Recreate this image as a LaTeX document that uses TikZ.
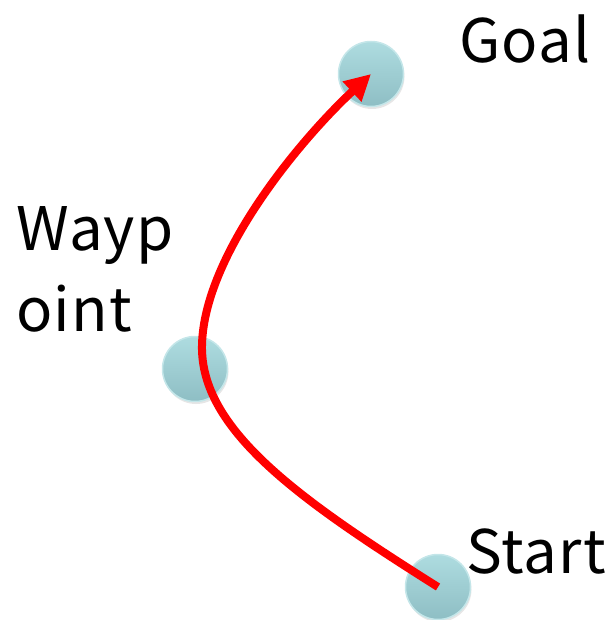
\documentclass[tikz,border=0pt]{standalone}
\usepackage{fontspec}
\setmainfont[LetterSpace=2]{Noto Sans CJK JP}
\usetikzlibrary{arrows.meta, shadows}

\definecolor{puce}{RGB}{174,220,224}
\definecolor{pucebas}{RGB}{142,190,196}
\definecolor{pucebord}{RGB}{196,230,233}

\begin{document}
\begin{tikzpicture}[x=1pt, y=-1pt,
	point/.style={circle, minimum size=65pt, inner sep=0pt,
		top color=puce, bottom color=pucebas, draw=pucebord, line width=1.5pt,
		drop shadow={opacity=0.2, shadow xshift=1pt, shadow yshift=-2.5pt}},
	etiquette/.style={anchor=base west, inner sep=0pt,
		font=\fontsize{60}{81}\selectfont},
	trajet/.style={red, line width=8pt, -{Triangle[length=26pt, width=26pt]}}]
	\useasboundingbox (0,0) rectangle (612,620);
	%les points
	\node[point] (goal) at (371,74) {};
	\node[point] (waypt) at (195,369) {};
	\node[point] (start) at (438,587) {};
	%les textes
	\node[etiquette] (lgoal) at (459,63) {Goal};
	\node[etiquette] (lwayp) at (16,250) {Wayp};
	\node[etiquette] (loint) at (16,331) {oint};
	\node[etiquette] (lstart) at (466,573) {Start};
	%le trajet
	\draw[trajet] (start.center) .. controls (300,500) and (200,430) .. (202,345)
		.. controls (204,255) and (300,140) .. (goal.center);
\end{tikzpicture}
\end{document}
